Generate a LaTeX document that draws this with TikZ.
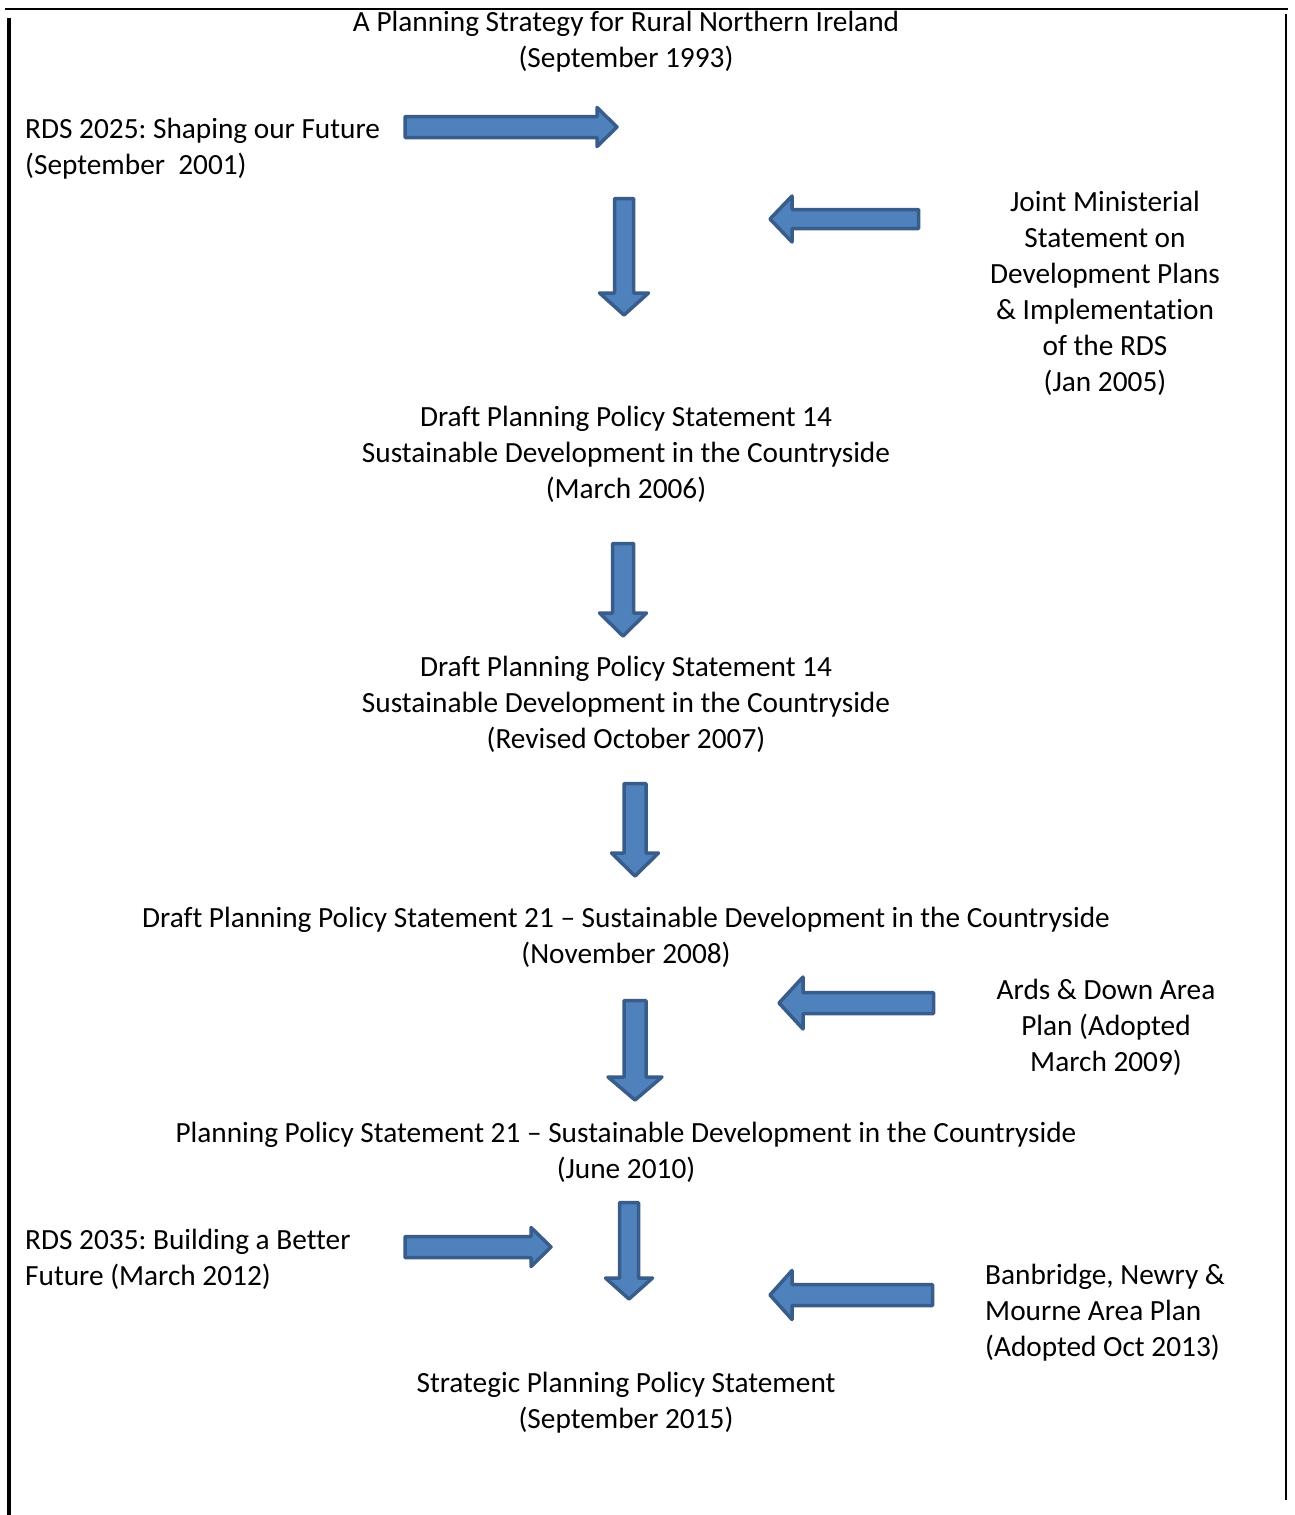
\documentclass[tikz,border=0pt]{standalone}
\usepackage{fontspec}
\setmainfont[Ligatures=NoCommon]{Carlito}
\frenchspacing
\definecolor{arrfill}{HTML}{4F81BD}
\definecolor{arrline}{HTML}{385D8A}
\newcommand{\arrD}[6]{%
  \draw[blockarrow] (#1-#5,#2) -- (#1+#5,#2) -- (#1+#5,#3) -- (#1+#6,#3) -- (#1,#4) -- (#1-#6,#3) -- (#1-#5,#3) -- cycle;}
\newcommand{\arrH}[6]{%
  \draw[blockarrow] (#1,#2-#5) -- (#3,#2-#5) -- (#3,#2-#6) -- (#4,#2) -- (#3,#2+#6) -- (#3,#2+#5) -- (#1,#2+#5) -- cycle;}
\begin{document}
\begin{tikzpicture}[x=1pt,y=-1pt,
  blockarrow/.style={fill=arrfill,draw=arrline,line width=3.5pt,line join=round},
  txt/.style={inner sep=0pt,font=\fontsize{29.3}{36}\selectfont},
  ctxt/.style={txt,align=center},
  ltxt/.style={txt,align=left,anchor=west},
  frameline/.style={draw=black}]
\useasboundingbox[fill=white] (0,0) rectangle (1295,1515);
% frame lines
\draw[frameline,line width=2.5pt] (5,9) -- (1288,9);
\draw[frameline,line width=3.5pt] (9,18) -- (9,1515);
\draw[frameline,line width=2pt] (1286,14) -- (1286,1500);
% texts
\node[ctxt] (t1) at (626,42) {A Planning Strategy for Rural Northern Ireland\\(September 1993)};
\node[ltxt] (rds25) at (25,149) {RDS 2025: Shaping our Future\\(September\ \ 2001)};
\node[ctxt] (jms) at (1105,293) {Joint Ministerial\\Statement on\\Development Plans\\\& Implementation\\of the RDS\\(Jan 2005)};
\node[ctxt] (pps14a) at (626,454) {Draft Planning Policy Statement 14\\Sustainable Development in the Countryside\\(March 2006)};
\node[ctxt] (pps14b) at (626,704) {Draft Planning Policy Statement 14\\Sustainable Development in the Countryside\\(Revised October 2007)};
\node[ctxt] (pps21d) at (626,937) {Draft Planning Policy Statement 21 -- Sustainable Development in the Countryside\\(November 2008)};
\node[ctxt] (ards) at (1106,1027) {Ards \& Down Area\\Plan (Adopted\\March 2009)};
\node[ctxt] (pps21) at (626,1152) {Planning Policy Statement 21 -- Sustainable Development in the Countryside\\(June 2010)};
\node[ltxt] (rds35) at (25,1259) {RDS 2035: Building a Better\\Future (March 2012)};
\node[ltxt] (bnm) at (985,1313) {Banbridge, Newry \&\\Mourne Area Plan\\(Adopted Oct 2013)};
\node[ctxt] (spps) at (626,1403) {Strategic Planning Policy Statement\\(September 2015)};
% block arrows
\arrH{405}{127}{597}{617}{10.5}{19.5}
\arrD{624}{198.5}{293}{315}{9.5}{24.5}
\arrH{918.5}{219}{792}{770}{9.5}{23}
\arrD{623}{543.5}{613}{636}{10.5}{23.5}
\arrD{635}{783.5}{853}{876}{11}{23.5}
\arrH{933.5}{1003}{803}{779}{10.5}{26}
\arrD{635}{1000.5}{1077}{1100}{11}{27}
\arrH{405}{1247}{531}{551}{10.5}{19.5}
\arrD{629}{1202.5}{1278}{1299}{9.5}{23.5}
\arrH{932.5}{1295}{792}{770}{10.5}{24.5}
\end{tikzpicture}
\end{document}
